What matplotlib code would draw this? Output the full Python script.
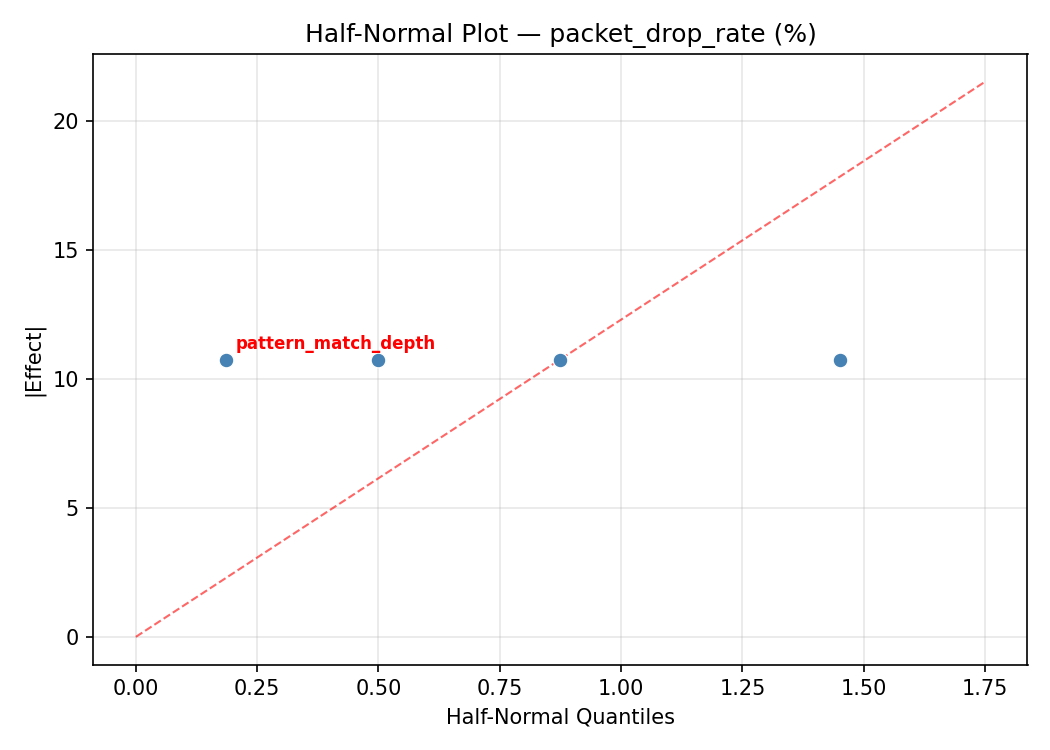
import numpy as np
import matplotlib
matplotlib.use("Agg")
import matplotlib.pyplot as plt

# half-normal quantiles and absolute effects
quantiles = [0.185, 0.499, 0.874, 1.451]
abs_effects = [10.75, 10.75, 10.75, 10.75]
labels = ["pattern_match_depth", "", "", ""]

# reference line through the origin
line_x = [0.0, 1.75]
line_y = [0.0, 21.53]

fig, ax = plt.subplots(figsize=(7, 5), dpi=150)

ax.scatter(quantiles, abs_effects, s=50, color="steelblue",
           edgecolors="white", linewidths=0.6, zorder=3)
ax.plot(line_x, line_y, color="red", linestyle="--", linewidth=1,
        alpha=0.6, zorder=2)

for x, y, lab in zip(quantiles, abs_effects, labels):
    if lab:
        ax.annotate(lab, (x, y), xytext=(5, 5), textcoords="offset points",
                    fontsize=8, fontweight="bold", color="red")

ax.set_xlabel("Half-Normal Quantiles")
ax.set_ylabel("|Effect|")
ax.set_title("Half-Normal Plot — packet_drop_rate (%)")
ax.grid(True, alpha=0.3)

fig.tight_layout()
fig.savefig("out.png", dpi=150)
